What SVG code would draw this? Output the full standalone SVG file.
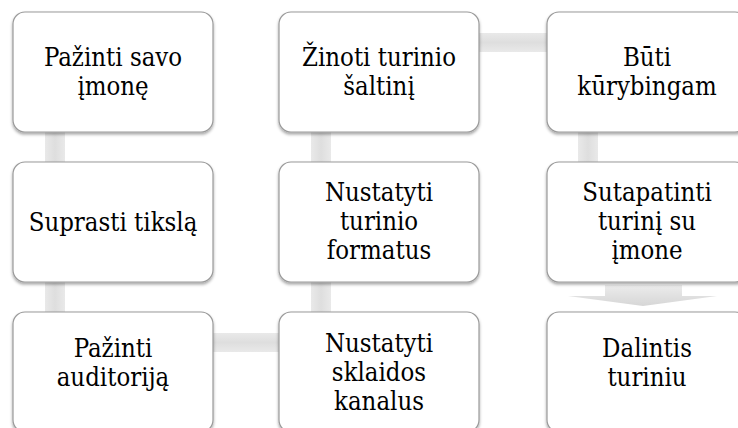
<svg xmlns="http://www.w3.org/2000/svg" width="738" height="428" viewBox="0 0 738 428">
<defs>
<filter id="sh" x="-10%" y="-10%" width="120%" height="130%">
<feDropShadow dx="0" dy="2" stdDeviation="1.8" flood-color="#000" flood-opacity="0.35"/>
</filter>
<linearGradient id="gv" x1="0" y1="0" x2="1" y2="0">
<stop offset="0" stop-color="#e9e9e9"/>
<stop offset="0.5" stop-color="#dedede"/>
<stop offset="1" stop-color="#e9e9e9"/>
</linearGradient>
<linearGradient id="gh" x1="0" y1="0" x2="0" y2="1">
<stop offset="0" stop-color="#e9e9e9"/>
<stop offset="0.5" stop-color="#dedede"/>
<stop offset="1" stop-color="#e9e9e9"/>
</linearGradient>
<linearGradient id="ga" x1="0" y1="0" x2="0" y2="1">
<stop offset="0" stop-color="#ececec"/>
<stop offset="1" stop-color="#d6d6d6"/>
</linearGradient>
</defs>
<style>
.box{fill:#fff;stroke:#9a9a9a;stroke-width:1.2;filter:url(#sh)}
.t{fill:#000;text-anchor:middle}
.a{font-family:'DejaVu Serif Condensed','DejaVu Serif','Liberation Serif',serif;font-size:25.5px}
</style>
<rect width="738" height="428" fill="#fff"/>
<g id="connectors">
<rect x="45" y="130" width="20" height="34" fill="url(#gv)"/>
<rect x="45" y="280" width="20" height="34" fill="url(#gv)"/>
<rect x="211" y="333" width="70" height="19" fill="url(#gh)"/>
<rect x="311" y="280" width="20" height="34" fill="url(#gv)"/>
<rect x="311" y="130" width="20" height="34" fill="url(#gv)"/>
<rect x="477" y="33" width="72" height="19" fill="url(#gh)"/>
<rect x="578" y="130" width="20" height="34" fill="url(#gv)"/>
<path d="M605,285 H682 V296 H717 L643,306 L568,296 H605 Z" fill="url(#ga)"/>
</g>
<g id="n1" class="a"><rect class="box" x="13" y="12" width="200" height="120" rx="12"/>
<text class="t" x="113" y="66">Pažinti savo</text><text class="t" x="113" y="95">įmonę</text></g>
<g id="n2" class="a"><rect class="box" x="13" y="162" width="200" height="120" rx="12"/>
<text class="t" x="113" y="231">Suprasti tikslą</text></g>
<g id="n3" class="a"><rect class="box" x="13" y="312" width="200" height="120" rx="12"/>
<text class="t" x="113" y="357">Pažinti</text><text class="t" x="113" y="386">auditoriją</text></g>
<g id="n4" class="a"><rect class="box" x="279" y="312" width="200" height="120" rx="12"/>
<text class="t" x="379" y="352">Nustatyti</text><text class="t" x="379" y="381">sklaidos</text><text class="t" x="379" y="410">kanalus</text></g>
<g id="n5" class="a"><rect class="box" x="279" y="162" width="200" height="120" rx="12"/>
<text class="t" x="379" y="201">Nustatyti</text><text class="t" x="379" y="230">turinio</text><text class="t" x="379" y="259">formatus</text></g>
<g id="n6" class="a"><rect class="box" x="279" y="12" width="200" height="120" rx="12"/>
<text class="t" x="379" y="66">Žinoti turinio</text><text class="t" x="379" y="95">šaltinį</text></g>
<g id="n7" class="a"><rect class="box" x="547" y="12" width="200" height="120" rx="12"/>
<text class="t" x="647" y="66">Būti</text><text class="t" x="647" y="95">kūrybingam</text></g>
<g id="n8" class="a"><rect class="box" x="547" y="162" width="200" height="120" rx="12"/>
<text class="t" x="647" y="201">Sutapatinti</text><text class="t" x="647" y="230">turinį su</text><text class="t" x="647" y="259">įmone</text></g>
<g id="n9" class="a"><rect class="box" x="547" y="312" width="200" height="120" rx="12"/>
<text class="t" x="647" y="357">Dalintis</text><text class="t" x="647" y="386">turiniu</text></g>
</svg>
